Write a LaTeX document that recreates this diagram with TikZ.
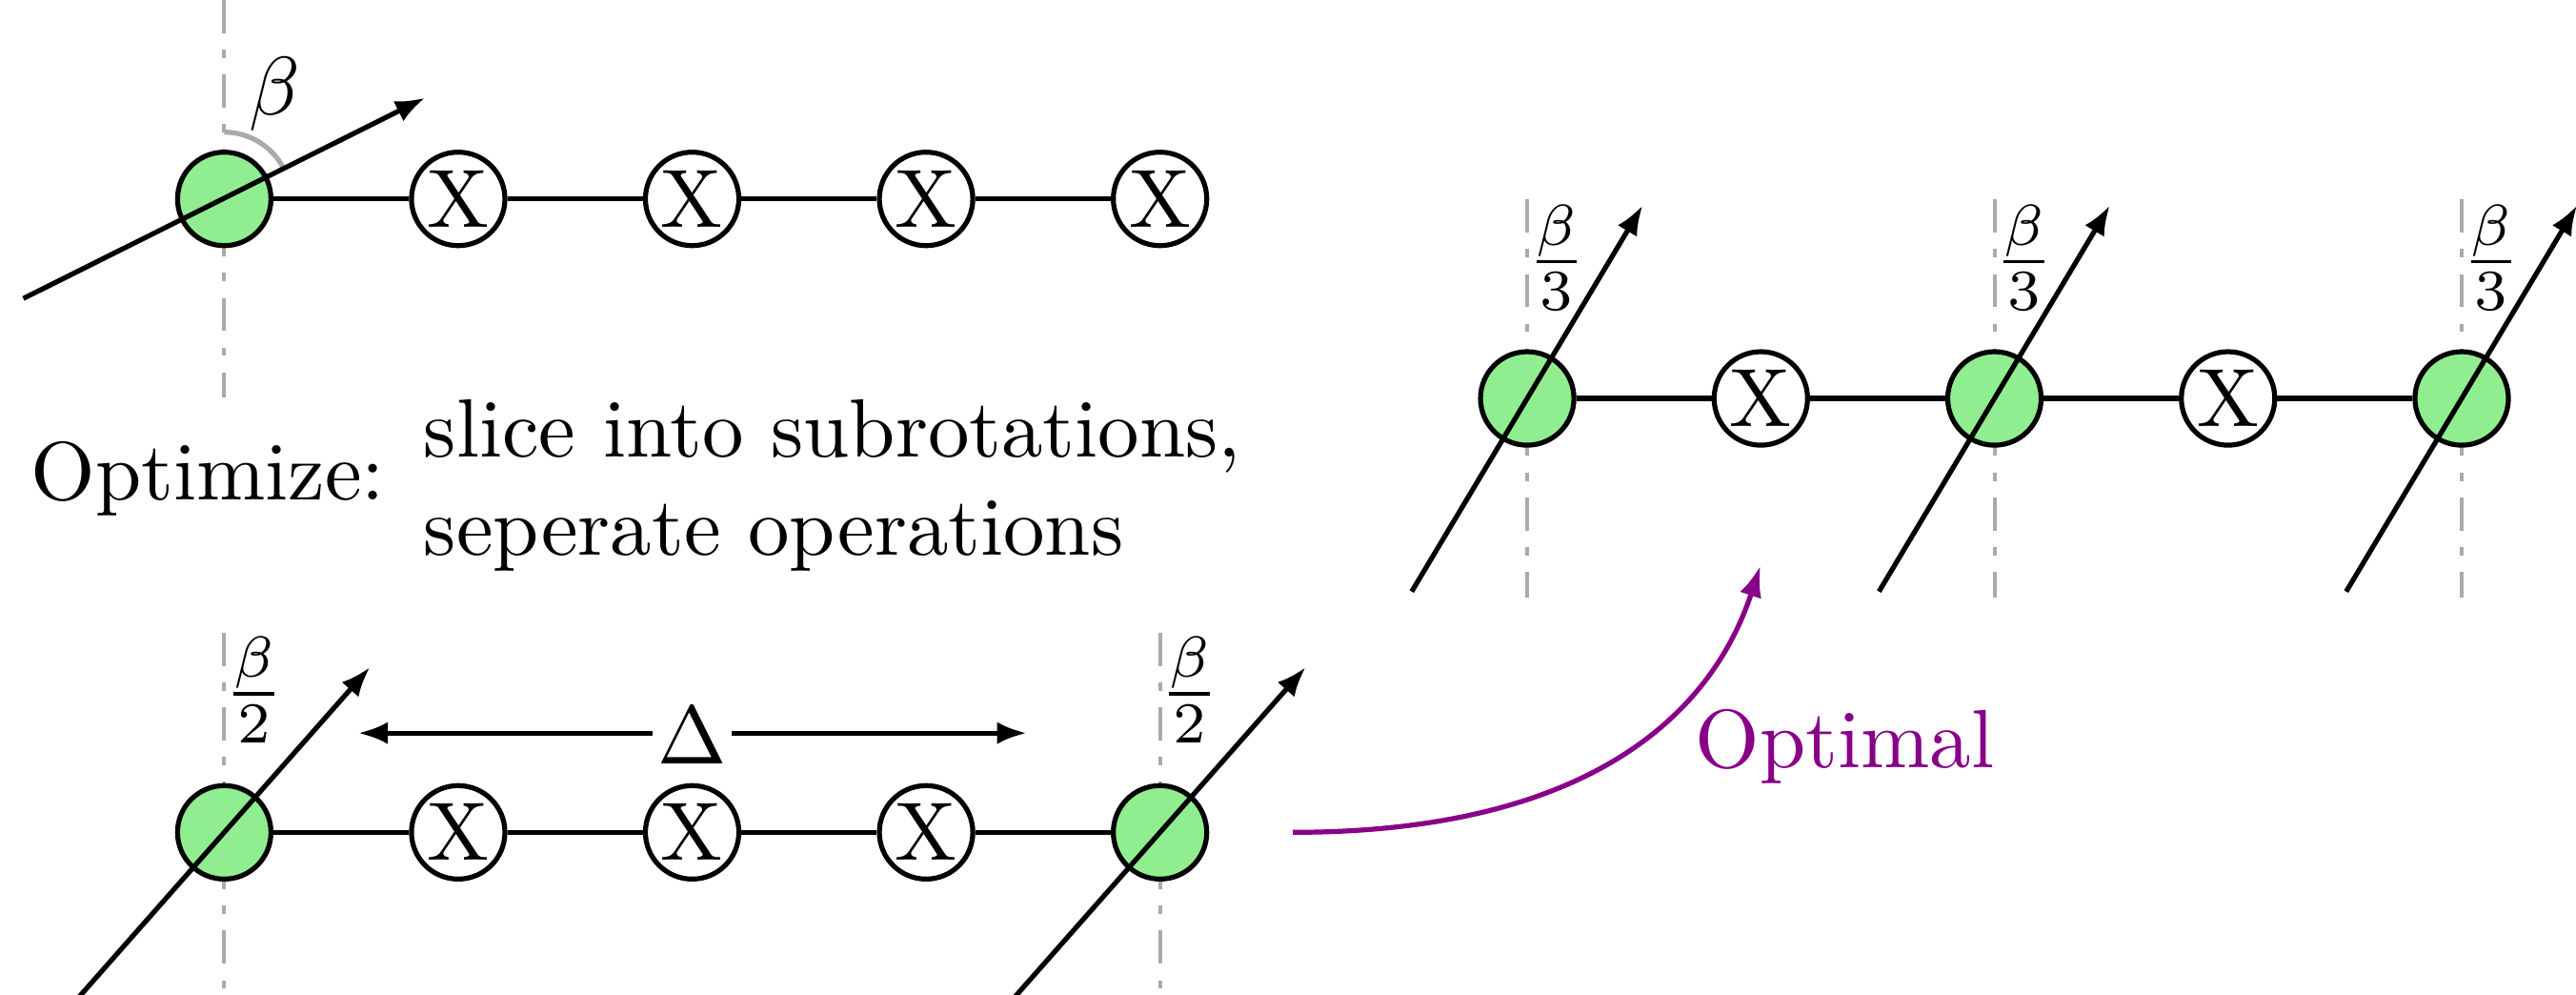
\documentclass[tikz,border=0pt]{standalone}
\usetikzlibrary{arrows.meta}
\definecolor{gnode}{RGB}{144,238,144}
\definecolor{dgray}{RGB}{170,170,170}
\definecolor{optc}{RGB}{136,0,136}
\begin{document}
\begin{tikzpicture}[x=0.19867pt,y=-0.19867pt,
  gate/.style={circle,draw,line width=0.6pt,minimum size=11.3pt,inner sep=0pt},
  zspider/.style={gate,fill=gnode},
  xspider/.style={gate,fill=white},
  axisline/.style={dgray,line width=0.45pt,dash pattern=on 4pt off 2pt on 1pt off 2pt},
  rotarrow/.style={-{Latex[length=3.6pt,width=2.7pt]},line width=0.6pt},
  wire/.style={line width=0.6pt},
  lbl/.style={anchor=base,inner sep=0pt}]
\useasboundingbox (0,0) rectangle (1568,605);

% ---------- top row ----------
\draw[axisline] (136.5,0) -- (136.5,242);
\node[zspider] (t0) at (136.5,121) {};
\node[xspider] (t1) at (278.9,121) {X};
\node[xspider] (t2) at (421.3,121) {X};
\node[xspider] (t3) at (563.7,121) {X};
\node[xspider] (t4) at (706.1,121) {X};
\draw[wire] (t0) -- (t1) -- (t2) -- (t3) -- (t4);
\draw[dgray,line width=0.6pt] ([shift={(-90:40.6)}]t0.center) arc[start angle=-90,end angle=-26.5,radius=40.6];
\coordinate (ta) at (14.2,181.6);
\coordinate (tb) at (258.8,59.5);
\draw[rotarrow] (ta) -- (tb);
\node[lbl] (tbeta) at (167,70) {$\beta$};

% ---------- text ----------
\node[anchor=base west,inner sep=0pt] (opt) at (18,304) {Optimize:};
\node[anchor=base west,inner sep=0pt] (sl1) at (257,278) {slice into subrotations,};
\node[anchor=base west,inner sep=0pt] (sl2) at (257,338) {seperate operations};

% ---------- bottom row ----------
\draw[axisline] (136.5,385) -- (136.5,627);
\draw[axisline] (706.1,385) -- (706.1,627);
\node[zspider] (b0) at (136.5,506.4) {};
\node[xspider] (b1) at (278.9,506.4) {X};
\node[xspider] (b2) at (421.3,506.4) {X};
\node[xspider] (b3) at (563.7,506.4) {X};
\node[zspider] (b4) at (706.1,506.4) {};
\draw[wire] (b0) -- (b1) -- (b2) -- (b3) -- (b4);
\coordinate (ba0) at (47.8,606.9);
\coordinate (bb0) at (225.2,405.9);
\coordinate (ba4) at (617.4,606.9);
\coordinate (bb4) at (794.8,405.9);
\draw[rotarrow] (ba0) -- (bb0);
\draw[rotarrow] (ba4) -- (bb4);
\node[lbl] (bf0) at (154.5,434.6) {$\frac{\beta}{2}$};
\node[lbl] (bf4) at (724.1,434.6) {$\frac{\beta}{2}$};
\node[anchor=base,inner sep=0.4pt] (delta) at (421.3,465) {$\Delta$};
\coordinate (dl) at (218,446);
\coordinate (dr) at (625,446);
\draw[rotarrow] (delta.west |- dl) -- (dl);
\draw[rotarrow] (delta.east |- dr) -- (dr);

% ---------- right group ----------
\foreach \xx in {929.6,1214.0,1498.4}{
  \draw[axisline] (\xx,121.4) -- (\xx,363.4);
}
\node[zspider] (r0) at (929.6,242.4) {};
\node[xspider] (r1) at (1071.8,242.4) {X};
\node[zspider] (r2) at (1214.0,242.4) {};
\node[xspider] (r3) at (1356.2,242.4) {X};
\node[zspider] (r4) at (1498.4,242.4) {};
\draw[wire] (r0) -- (r1) -- (r2) -- (r3) -- (r4);
\foreach \xx/\nm in {929.6/r0,1214.0/r2,1498.4/r4}{
  \coordinate (\nm a) at (\xx-70.3,359.9);
  \coordinate (\nm b) at (\xx+70.3,124.9);
  \draw[rotarrow] (\nm a) -- (\nm b);
  \node[lbl] (\nm f) at (\xx+18,171.6) {$\frac{\beta}{3}$};
}

% ---------- optimal arrow ----------
\coordinate (os) at (787,506.4);
\coordinate (oe) at (1071.6,344);
\draw[optc,line width=0.6pt,-{Latex[length=3.8pt,width=2.7pt]}] (os) .. controls (960,506.4) and (1040,440) .. (oe);
\node[optc,anchor=base west,inner sep=0pt] (optl) at (1031,467) {Optimal};
\end{tikzpicture}
\end{document}
